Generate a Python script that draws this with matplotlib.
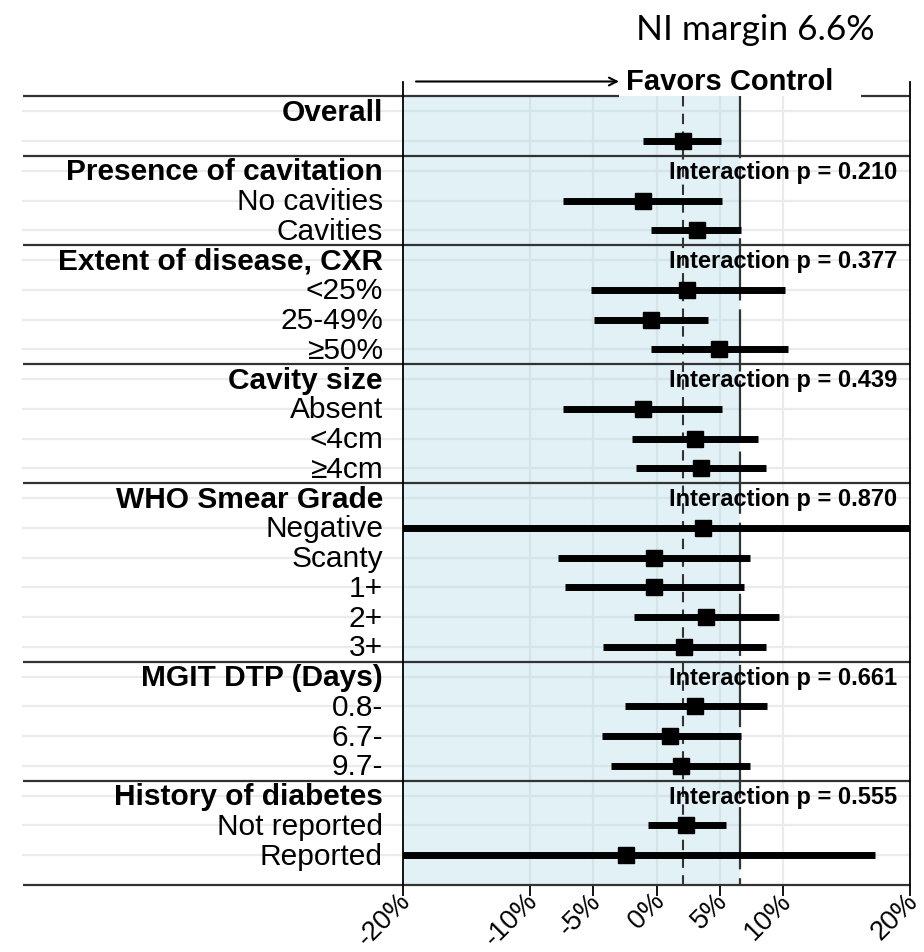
import matplotlib
matplotlib.use('Agg')

import matplotlib.pyplot as plt
import matplotlib.transforms as mtransforms

plt.rcParams['font.family'] = ['Liberation Sans', 'DejaVu Sans']

# one entry per row, top to bottom; header rows carry no estimate
labels = ['Overall', '',
          'Presence of cavitation', 'No cavities', 'Cavities',
          'Extent of disease, CXR', '<25%', '25-49%', '\u226550%',
          'Cavity size', 'Absent', '<4cm', '\u22654cm',
          'WHO Smear Grade', 'Negative', 'Scanty', '1+', '2+', '3+',
          'MGIT DTP (Days)', '0.8-', '6.7-', '9.7-',
          'History of diabetes', 'Not reported', 'Reported']
header = [True, False,
          True, False, False,
          True, False, False, False,
          True, False, False, False,
          True, False, False, False, False, False,
          True, False, False, False,
          True, False, False]
estimate = [None, 2.1,
            None, -1.1, 3.2,
            None, 2.4, -0.4, 4.9,
            None, -1.1, 3.0, 3.5,
            None, 3.7, -0.2, -0.2, 3.9, 2.2,
            None, 3.0, 1.1, 1.9,
            None, 2.3, -2.4]
lower = [None, -1.1,
         None, -7.4, -0.4,
         None, -5.2, -4.9, -0.4,
         None, -7.4, -1.9, -1.6,
         None, -24.0, -7.8, -7.2, -1.8, -4.2,
         None, -2.5, -4.3, -3.6,
         None, -0.7, -24.0]
upper = [None, 5.1,
         None, 5.2, 6.7,
         None, 10.1, 4.1, 10.4,
         None, 5.2, 8.0, 8.6,
         None, 28.0, 7.4, 6.9, 9.7, 8.6,
         None, 8.7, 6.7, 7.4,
         None, 5.5, 17.2]
p_interaction = [None, None,
                 '0.210', None, None,
                 '0.377', None, None, None,
                 '0.439', None, None, None,
                 '0.870', None, None, None, None, None,
                 '0.661', None, None, None,
                 '0.555', None, None]

ni_margin = 6.6
xticks = [-20, -10, -5, 0, 5, 10, 20]

W, H = 924, 952
fig = plt.figure(figsize=(W / 100, H / 100), dpi=100)

# panel sits at x 403..910 px, y 81..885 px
ax = fig.add_axes([403 / W, 1 - 885 / H, (910 - 403) / W, (885 - 81.5) / H])
nrow = len(labels)
ax.set_xlim(-20, 20)
ax.set_ylim(nrow, -1)

trans = mtransforms.blended_transform_factory(fig.transFigure, ax.transData)
x_left, x_right = 23 / W, 910 / W
grid_c = '#EBEBEB'
line_c = '#333333'

# row gridlines run through the label column too
for i in range(nrow):
    ax.plot([x_left, x_right], [i, i], transform=trans, color=grid_c,
            lw=1.6, clip_on=False, zorder=0.5)
ax.vlines([t for t in xticks if abs(t) < 20], -0.5, nrow, color=grid_c,
          lw=1.6, zorder=0.5)

# shaded region up to the non-inferiority margin
ax.fill_betweenx([-0.5, nrow], -20, ni_margin, color='lightblue',
                 alpha=0.35, lw=0, zorder=1)

# section separators
seps = [i - 0.5 for i, h in enumerate(header) if h] + [nrow]
for y in seps:
    if y == -0.5:
        ax.plot([x_left, 619 / W], [y, y], transform=trans, color=line_c,
                lw=1.6, clip_on=False, zorder=2, solid_capstyle='butt')
        ax.plot([861 / W, x_right], [y, y], transform=trans, color=line_c,
                lw=1.6, clip_on=False, zorder=2, solid_capstyle='butt')
    else:
        ax.plot([x_left, x_right], [y, y], transform=trans, color=line_c,
                lw=1.6, clip_on=False, zorder=2, solid_capstyle='butt')

# overall estimate and NI margin
ax.vlines(estimate[1], -0.5, nrow, color=line_c, lw=1.5,
          linestyles=(0, (5, 3.5)), zorder=2)
ax.vlines(ni_margin, -0.5, nrow, color=line_c, lw=1.6,
          linestyles=(0, (28, 4)), zorder=2)

# estimates with CIs
for i in range(nrow):
    if estimate[i] is None:
        continue
    ax.plot([lower[i], upper[i]], [i, i], color='black', lw=5,
            solid_capstyle='butt', zorder=4)
    ax.plot(estimate[i], i, marker='s', ms=11.5, color='black', zorder=5)

# row labels
for i in range(nrow):
    ax.text(383 / W, i + 0.05, labels[i], transform=trans, ha='right',
            va='center', fontsize=21.5,
            fontweight='bold' if header[i] else 'normal')
    if p_interaction[i] is not None:
        ax.text(897 / W, i + 0.05, 'Interaction p = ' + p_interaction[i],
                transform=trans, ha='right', va='center', fontsize=17,
                fontweight='bold', zorder=6)

# direction arrow and label above the panel
ax.annotate('', xy=(619 / W, -1.0), xytext=(416 / W, -1.0),
            xycoords=trans, textcoords=trans,
            arrowprops=dict(arrowstyle='->', lw=1.5, color='black',
                            shrinkA=0, shrinkB=0, mutation_scale=14))
ax.text(626 / W, -1.0, 'Favors Control', transform=trans, ha='left',
        va='center', fontsize=21, fontweight='bold')

fig.text(755 / W, 1 - 30 / H, 'NI margin 6.6%', ha='center', va='center',
         fontsize=25.5, family='Lato')

for s in ['top', 'bottom']:
    ax.spines[s].set_visible(False)
for s in ['left', 'right']:
    ax.spines[s].set_color('black')
    ax.spines[s].set_linewidth(1.3)

ax.set_yticks([])
ax.set_xticks(xticks)
ax.set_xticklabels(['%d%%' % t for t in xticks], rotation=45, ha='right',
                   va='center', rotation_mode='anchor', fontsize=19.5)
ax.tick_params(axis='x', length=8, width=1.3, color='black', pad=2)
# nudge the slanted labels a little right
shift = mtransforms.ScaledTranslation(3 / 72, 1 / 72, fig.dpi_scale_trans)
for lab in ax.get_xticklabels():
    lab.set_transform(lab.get_transform() + shift)

plt.savefig('out.png', dpi=100)
